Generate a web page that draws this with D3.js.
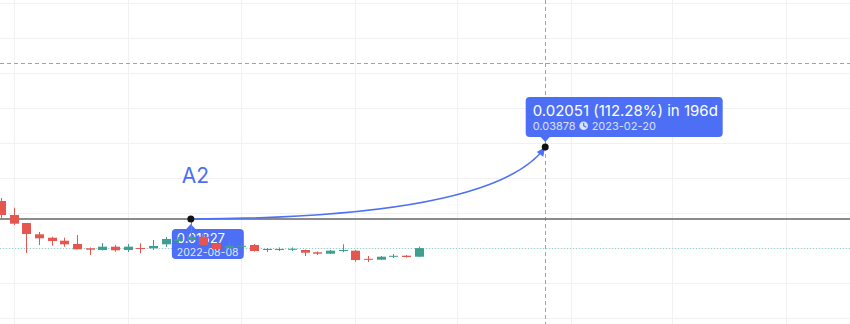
<!DOCTYPE html>
<html>
<head>
<meta charset="utf-8">
<script src="https://cdn.jsdelivr.net/npm/d3@7/dist/d3.min.js"></script>
<style>
  html, body { margin: 0; padding: 0; background: #ffffff; }
  svg { display: block; }
  text { font-family: Inter, "Noto Sans", sans-serif; }
</style>
</head>
<body>
<svg id="chart" width="850" height="324"></svg>
<script>
// Weekly candles (Monday open dates)
const dates = ["2022-04-25","2022-05-02","2022-05-09","2022-05-16","2022-05-23","2022-05-30",
  "2022-06-06","2022-06-13","2022-06-20","2022-06-27","2022-07-04","2022-07-11","2022-07-18",
  "2022-07-25","2022-08-01","2022-08-08","2022-08-15","2022-08-22","2022-08-29","2022-09-05",
  "2022-09-12","2022-09-19","2022-09-26","2022-10-03","2022-10-10","2022-10-17","2022-10-24",
  "2022-10-31","2022-11-07","2022-11-14","2022-11-21","2022-11-28","2022-12-05","2022-12-12"];
const opens  = [0.02340,0.01940,0.01712,0.01389,0.01292,0.01207,0.01113,0.00990,0.00942,0.01036,
  0.00942,0.00999,0.00990,0.01104,0.01198,0.01227,0.01321,0.01113,0.00990,0.01041,0.01084,0.00950,
  0.00970,0.00956,0.00942,0.00876,0.00836,0.00922,0.00922,0.00690,0.00665,0.00756,0.00779,0.00750];
const highs  = [0.02425,0.02148,0.01712,0.01455,0.01321,0.01292,0.01369,0.01013,0.01141,0.01084,
  0.01113,0.01133,0.01227,0.01312,0.01312,0.01827,0.01398,0.01141,0.01178,0.01141,0.01113,0.00999,
  0.01013,0.01013,0.00956,0.00899,0.00942,0.01104,0.00942,0.00770,0.00770,0.00827,0.00799,0.01036];
const lows   = [0.01797,0.01655,0.00856,0.01084,0.01064,0.01036,0.00961,0.00799,0.00927,0.00893,
  0.00884,0.00847,0.00942,0.01027,0.01141,0.01170,0.01056,0.00942,0.00970,0.01027,0.00899,0.00884,
  0.00913,0.00913,0.00770,0.00799,0.00827,0.00876,0.00608,0.00599,0.00656,0.00713,0.00728,0.00742];
const closes = [0.01940,0.01692,0.01398,0.01275,0.01198,0.01104,0.00961,0.00950,0.01036,0.00933,
  0.01036,0.00976,0.01056,0.01255,0.01241,0.01321,0.01084,0.00970,0.01064,0.01061,0.00913,0.00970,
  0.00947,0.00976,0.00864,0.00836,0.00922,0.00942,0.00656,0.00670,0.00750,0.00776,0.00742,0.00995];

// Grid positions
const gridDates  = ["2022-05-02","2022-07-04","2022-09-05","2022-11-07","2023-01-02","2023-03-06","2023-05-01","2023-07-03"];
const gridPrices = [-0.01,0,0.01,0.02,0.03,0.04,0.05,0.06,0.07,0.08];

// Price-range measurement (A2)
const measureLabel = "A2";
const measureStart = { date: "2022-08-08", price: 0.01827 };
const measureEnd   = { date: "2023-02-20", price: 0.03878 };
const measureText  = ["0.02051 (112.28%) in 196d", "0.03878", "2023-02-20"];
const startText    = ["0.01827", "2022-08-08"];

// Crosshair
const crossDate = "2023-02-20";
const crossPrice = 0.06277;

const W = 850, H = 324;
const parse = d3.utcParse("%Y-%m-%d");
const x = d3.scaleUtc().domain([parse("2022-04-25"), parse("2023-02-20")]).range([1, 545.2]);
const y = d3.scaleLinear().domain([0, 0.02]).range([283, 212.9]);

const UP = "#3f9e8f", DOWN = "#e4564f", BLUE = "#4c6ff5";
const svg = d3.select("#chart");

// grid
svg.append("g").selectAll("line").data(gridDates).join("line")
  .attr("x1", d => Math.round(x(parse(d))) + 0.5).attr("x2", d => Math.round(x(parse(d))) + 0.5)
  .attr("y1", 0).attr("y2", H).attr("stroke", "#f1f1f3").attr("stroke-width", 1);
svg.append("g").selectAll("line").data(gridPrices).join("line")
  .attr("x1", 0).attr("x2", W)
  .attr("y1", d => Math.round(y(d)) + 0.5).attr("y2", d => Math.round(y(d)) + 0.5)
  .attr("stroke", "#f1f1f3").attr("stroke-width", 1);

// crosshair
const cx = Math.round(x(parse(crossDate))) + 0.5, cy = Math.round(y(crossPrice)) + 0.5;
svg.append("line").attr("x1", cx).attr("x2", cx).attr("y1", 0).attr("y2", H)
  .attr("stroke", "#a3a3a3").attr("stroke-dasharray", "4,3");
svg.append("line").attr("x1", 0).attr("x2", W).attr("y1", cy).attr("y2", cy)
  .attr("stroke", "#a3a3a3").attr("stroke-dasharray", "4,3");

// horizontal level at the measurement start price
const sx = x(parse(measureStart.date)), sy = y(measureStart.price);
const ex = x(parse(measureEnd.date)), ey = y(measureEnd.price);
svg.append("line").attr("x1", 0).attr("x2", W).attr("y1", sy).attr("y2", sy)
  .attr("stroke", "#666666").attr("stroke-width", 1.5);

// last price line
const lastY = Math.round(y(closes[closes.length - 1])) + 0.5;
svg.append("line").attr("x1", 0).attr("x2", W).attr("y1", lastY).attr("y2", lastY)
  .attr("stroke", "#8fd3cb").attr("stroke-dasharray", "1,2");

// start label box with notch
const sb = { x: sx - 19, y: sy + 10, w: 72, h: 30 };
const sg = svg.append("g");
sg.append("rect").attr("x", sb.x).attr("y", sb.y).attr("width", sb.w).attr("height", sb.h)
  .attr("rx", 4).attr("fill", BLUE);
sg.append("path").attr("d", `M${sx - 5},${sb.y + 0.5} L${sx},${sb.y - 5} L${sx + 5},${sb.y + 0.5} Z`).attr("fill", BLUE);
sg.append("text").attr("x", sb.x + 5).attr("y", sb.y + 14.5).attr("fill", "#fff")
  .attr("font-size", 13).text(startText[0]);
sg.append("text").attr("x", sb.x + 5).attr("y", sb.y + 27).attr("fill", "rgba(255,255,255,0.85)")
  .attr("font-size", 10.5).text(startText[1]);

// end label box with notch
const eb = { x: ex - 19.5, y: ey - 50, w: 197, h: 40 };
const eg = svg.append("g");
eg.append("rect").attr("x", eb.x).attr("y", eb.y).attr("width", eb.w).attr("height", eb.h)
  .attr("rx", 4).attr("fill", BLUE);
eg.append("path").attr("d", `M${ex - 5},${eb.y + eb.h - 0.5} L${ex},${eb.y + eb.h + 5} L${ex + 5},${eb.y + eb.h - 0.5} Z`).attr("fill", BLUE);
eg.append("text").attr("x", eb.x + 7).attr("y", eb.y + 19).attr("fill", "#fff")
  .attr("font-size", 15).text(measureText[0]);
const l2 = eg.append("text").attr("x", eb.x + 7).attr("y", eb.y + 32.5).attr("fill", "rgba(255,255,255,0.8)")
  .attr("font-size", 11).text(measureText[1]);
const l2w = l2.node().getComputedTextLength();
const clk = { x: eb.x + 7 + l2w + 8, y: eb.y + 28.7 };
eg.append("circle").attr("cx", clk.x).attr("cy", clk.y).attr("r", 4.3).attr("fill", "rgba(255,255,255,0.8)");
eg.append("path").attr("d", `M${clk.x},${clk.y - 3} L${clk.x},${clk.y} L${clk.x + 2.5},${clk.y + 1.5}`)
  .attr("stroke", BLUE).attr("stroke-width", 1.2).attr("fill", "none");
eg.append("text").attr("x", clk.x + 8).attr("y", eb.y + 32.5).attr("fill", "rgba(255,255,255,0.8)")
  .attr("font-size", 11).text(measureText[2]);

// candles
const bodyW = 9;
const cg = svg.append("g");
dates.forEach((d, i) => {
  const xc = Math.round(x(parse(d))) + 0.5;
  const up = closes[i] >= opens[i];
  const col = up ? UP : DOWN;
  cg.append("line").attr("x1", xc).attr("x2", xc).attr("y1", y(highs[i])).attr("y2", y(lows[i]))
    .attr("stroke", col).attr("stroke-width", 1);
  const top = y(Math.max(opens[i], closes[i])), bot = y(Math.min(opens[i], closes[i]));
  cg.append("rect").attr("x", xc - bodyW / 2).attr("y", top).attr("width", bodyW)
    .attr("height", Math.max(1, bot - top)).attr("fill", col);
});

// measurement curve and arrow
const ctrl = [495, sy - 1];
svg.append("path").attr("d", `M${sx},${sy} Q${ctrl[0]},${ctrl[1]} ${ex},${ey}`)
  .attr("fill", "none").attr("stroke", BLUE).attr("stroke-width", 1.5);
const ang = Math.atan2(ey - ctrl[1], ex - ctrl[0]);
const aL = 9, aW = 4;
const bx = ex - aL * Math.cos(ang), by = ey - aL * Math.sin(ang);
svg.append("path").attr("d",
  `M${ex},${ey} L${bx + aW * Math.sin(ang)},${by - aW * Math.cos(ang)} L${bx - aW * Math.sin(ang)},${by + aW * Math.cos(ang)} Z`)
  .attr("fill", BLUE);

// anchor points
svg.append("circle").attr("cx", sx).attr("cy", sy).attr("r", 3.5).attr("fill", "#111");
svg.append("circle").attr("cx", ex).attr("cy", ey).attr("r", 3.5).attr("fill", "#111");

// label
svg.append("text").attr("x", sx - 9).attr("y", sy - 35.5).attr("fill", BLUE)
  .attr("font-size", 21).text(measureLabel);
</script>
</body>
</html>
